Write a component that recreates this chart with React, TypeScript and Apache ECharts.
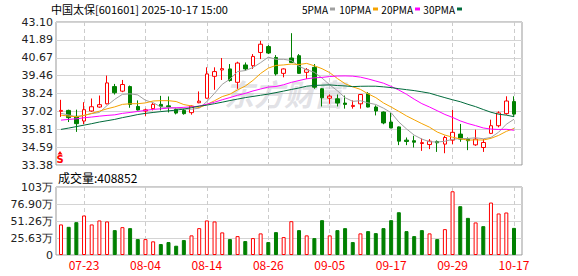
import React, { useEffect, useRef } from 'react';
import * as echarts from 'echarts';

const dates = [
  '07-18','07-21','07-22','07-23','07-24','07-25','07-28','07-29','07-30','07-31',
  '08-01','08-04','08-05','08-06','08-07','08-08','08-11','08-12','08-13','08-14',
  '08-15','08-18','08-19','08-20','08-21','08-22','08-25','08-26','08-27','08-28',
  '08-29','09-01','09-02','09-03','09-04','09-05','09-08','09-09','09-10','09-11',
  '09-12','09-15','09-16','09-17','09-18','09-19','09-22','09-23','09-24','09-25',
  '09-26','09-29','09-30','10-09','10-10','10-13','10-14','10-15','10-16','10-17',
];

// [open, close, low, high]
const ohlc: number[][] = [
  [37.03, 37.09, 36.65, 37.81], [37.09, 36.60, 36.30, 37.14], [36.69, 36.19, 35.63, 37.14],
  [36.37, 37.14, 36.15, 37.65], [37.05, 37.34, 37.00, 37.90], [37.32, 37.48, 37.27, 38.10],
  [37.54, 38.96, 37.50, 39.46], [38.71, 38.29, 38.17, 38.89], [38.40, 38.85, 38.33, 39.16],
  [38.71, 37.50, 37.27, 38.78], [37.36, 37.12, 37.09, 37.77], [37.05, 37.13, 36.72, 37.21],
  [37.21, 37.50, 37.09, 37.59], [37.50, 37.36, 37.09, 38.08], [37.40, 37.33, 36.95, 38.04],
  [37.16, 36.91, 36.82, 37.23], [37.09, 36.87, 36.80, 37.21], [36.94, 37.38, 36.80, 37.43],
  [37.61, 37.72, 37.58, 38.38], [37.92, 39.57, 37.90, 40.02], [39.41, 39.73, 38.49, 40.02],
  [39.84, 39.93, 39.16, 40.65], [39.91, 39.12, 39.05, 40.24], [39.00, 40.31, 38.56, 40.40],
  [40.18, 39.91, 39.79, 40.35], [40.13, 40.76, 39.91, 40.92], [41.03, 41.59, 40.58, 41.82],
  [41.43, 40.99, 40.92, 41.53], [40.69, 39.57, 39.46, 40.85], [39.61, 39.91, 39.34, 39.95],
  [40.65, 40.35, 40.31, 42.34], [40.81, 39.61, 39.57, 40.92], [39.68, 39.86, 39.23, 39.97],
  [40.02, 38.67, 38.56, 40.24], [38.56, 37.95, 37.36, 38.60], [37.92, 38.06, 37.54, 38.17],
  [37.88, 37.59, 37.36, 38.17], [37.59, 37.50, 37.21, 38.10], [37.36, 37.43, 37.21, 37.77],
  [37.54, 38.17, 37.21, 38.20], [38.22, 37.32, 37.30, 38.33], [37.32, 37.05, 36.75, 37.43],
  [36.98, 36.24, 36.15, 37.02], [36.30, 35.90, 35.88, 36.91], [35.97, 35.00, 34.73, 36.00],
  [35.07, 34.98, 34.73, 35.25], [35.03, 34.93, 34.57, 35.37], [34.84, 34.90, 34.34, 35.18],
  [34.77, 35.00, 34.46, 35.14], [34.98, 34.89, 34.27, 35.05], [34.80, 35.25, 34.18, 35.37],
  [35.07, 35.60, 34.80, 37.12], [35.48, 35.14, 34.96, 36.17], [35.14, 35.03, 34.39, 35.25],
  [34.75, 35.14, 34.68, 35.78], [34.57, 34.91, 34.27, 35.14], [35.53, 36.05, 35.48, 36.46],
  [36.05, 36.92, 35.94, 37.03], [36.87, 37.73, 36.80, 38.05], [37.69, 36.84, 36.72, 38.05],
];

// volume in 万 (10k shares)
const volumes = [
  46.1, 42.5, 49.5, 59.6, 46.1, 52.1, 50.6, 37.5, 42.0, 40.5,
  24.0, 24.0, 20.6, 16.5, 19.5, 14.0, 22.5, 29.6, 40.5, 52.1,
  50.6, 34.1, 24.0, 28.5, 21.0, 25.5, 32.6, 19.5, 34.5, 27.0,
  51.0, 37.5, 29.6, 25.5, 52.5, 29.6, 37.5, 40.5, 19.5, 32.6,
  36.0, 33.0, 40.5, 52.5, 64.5, 36.0, 28.5, 37.5, 32.6, 24.0,
  39.0, 96.1, 73.6, 56.0, 49.1, 43.5, 79.1, 62.6, 64.1, 40.8852,
];
const prevClose = 37.0;

// MA values before enough closes are available
const ma5Head = [36.89, 36.78, 36.66, 36.75];
const ma10Head = [36.77, 36.70, 36.66, 36.75, 36.89, 37.04, 37.20, 37.33, 37.50];
const ma20Head = [36.43, 36.48, 36.52, 36.59, 36.64, 36.70, 36.75, 36.79, 36.89, 36.95,
  37.02, 37.09, 37.16, 37.20, 37.25, 37.27, 37.30, 37.33, 37.38];
const ma30Head = [35.80, 35.89, 35.99, 36.09, 36.19, 36.30, 36.39, 36.48, 36.60, 36.70,
  36.81, 36.89, 36.95, 37.01, 37.06, 37.11, 37.18, 37.28, 37.38, 37.45,
  37.55, 37.65, 37.76, 37.86, 37.96, 38.04, 38.12, 38.20, 38.30];

const yTickLabels = ['33.38', '34.59', '35.81', '37.02', '38.24', '39.46', '40.67', '41.89', '43.10'];
const volTickLabels = ['0', '25.63万', '51.26万', '76.90万', '103万'];
const xTickLabels = ['07-23', '08-04', '08-14', '08-26', '09-05', '09-17', '09-29', '10-17'];
const priceMin = 33.38;
const priceMax = 43.10;
const volMax = 102.53;

const legendNames = ['5PMA', '10PMA', '20PMA', '30PMA'];
const maColors = ['#a0a0a0', '#f5a300', '#ff00ff', '#006b3c'];

const closes = ohlc.map((d) => d[1]);
function movingAverage(n: number, head: number[]) {
  return closes.map((_, i) => {
    if (i < n - 1) return head[i];
    let s = 0;
    for (let k = i - n + 1; k <= i; k++) s += closes[k];
    return +(s / n).toFixed(3);
  });
}

const RED = '#ff0000';
const GREEN = '#008000';

export default function App() {
  const ref = useRef<HTMLDivElement>(null);
  useEffect(() => {
    if (!ref.current) return;
    const chart = echarts.init(ref.current, undefined, { renderer: 'svg' });
    const mas = [
      movingAverage(5, ma5Head),
      movingAverage(10, ma10Head),
      movingAverage(20, ma20Head),
      movingAverage(30, ma30Head),
    ];
    const volData = volumes.map((v, i) => {
      const pc = i === 0 ? prevClose : closes[i - 1];
      const up = closes[i] >= pc;
      return {
        value: v,
        itemStyle: up
          ? { color: '#ffffff', borderColor: RED, borderWidth: 1 }
          : { color: GREEN, borderColor: GREEN, borderWidth: 1 },
      };
    });
    const isTick = (_i: number, v: string) => xTickLabels.includes(v);
    const splitDash = {
      show: true,
      interval: isTick,
      alignWithLabel: true,
      lineStyle: { color: '#cccccc', type: [4, 3] as any, width: 1 },
    };
    const sans = '"DejaVu Sans", sans-serif';
    const cjk = '"Noto Sans CJK SC", sans-serif';

    const legendRight = [328, 371, 413, 455];
    const legendGraphics: any[] = [];
    legendNames.forEach((name, i) => {
      legendGraphics.push({
        type: 'text',
        style: {
          text: name, x: legendRight[i], y: 9, fill: '#000',
          font: `10px ${cjk}`, textAlign: 'right', textVerticalAlign: 'middle',
          align: 'right', verticalAlign: 'middle',
        },
      });
      legendGraphics.push({
        type: 'rect',
        shape: { x: legendRight[i] + 2, y: 7.5, width: 5, height: 3 },
        style: { fill: maColors[i] },
      });
    });

    chart.setOption({
      animation: false,
      backgroundColor: '#ffffff',
      grid: [
        { left: 56, right: 56, top: 22, height: 143, show: true, borderColor: '#999', borderWidth: 1 },
        { left: 57.16, right: 60.16, top: 22, height: 143 },
        { left: 56, right: 56, top: 187, height: 68, show: true, borderColor: '#999', borderWidth: 1 },
        { left: 57.16, right: 60.16, top: 187, height: 68 },
      ],
      xAxis: [
        { gridIndex: 0, type: 'value', min: 0, max: 1, show: false },
        {
          gridIndex: 1, type: 'category', data: dates, boundaryGap: true,
          axisLine: { show: false }, axisTick: { show: false }, axisLabel: { show: false },
          splitLine: splitDash,
        },
        { gridIndex: 2, type: 'value', min: 0, max: 1, show: false },
        {
          gridIndex: 3, type: 'category', data: dates, boundaryGap: true,
          axisLine: { show: false }, axisTick: { show: false },
          axisLabel: {
            show: true, interval: isTick, color: RED, fontFamily: cjk, fontSize: 12, margin: 3,
          },
          splitLine: splitDash,
        },
      ],
      yAxis: [
        {
          gridIndex: 0, type: 'value', min: 0, max: 8, interval: 1,
          axisLine: { show: false }, axisTick: { show: false },
          axisLabel: {
            formatter: (v: number) => yTickLabels[Math.round(v)] ?? '',
            color: '#222', fontFamily: sans, fontSize: 11, margin: 3,
          },
          splitLine: { show: true, lineStyle: { color: '#d4d4d4', width: 1 } },
        },
        { gridIndex: 1, type: 'value', min: priceMin, max: priceMax, show: false, splitLine: { show: false } },
        {
          gridIndex: 2, type: 'value', min: 0, max: 4, interval: 1,
          axisLine: { show: false }, axisTick: { show: false },
          axisLabel: {
            formatter: (v: number) => volTickLabels[Math.round(v)] ?? '',
            color: '#222', fontFamily: sans, fontSize: 11, margin: 3,
          },
          splitLine: { show: true, lineStyle: { color: '#d4d4d4', width: 1 } },
        },
        { gridIndex: 3, type: 'value', min: 0, max: volMax, show: false, splitLine: { show: false } },
      ],
      graphic: [
        {
          type: 'text', z: 1,
          style: {
            text: '东方财富', x: 284, y: 93, fill: 'rgba(190,190,200,0.45)',
            font: `italic bold 30px ${cjk}`, textAlign: 'center', textVerticalAlign: 'middle',
            align: 'center', verticalAlign: 'middle',
          },
        },
        {
          type: 'text',
          style: {
            text: '中国太保[601601] 2025-10-17 15:00', x: 51, y: 9, fill: '#000',
            font: `11px ${cjk}`, textAlign: 'left', textVerticalAlign: 'middle',
            align: 'left', verticalAlign: 'middle',
          },
        },
        ...legendGraphics,
        {
          type: 'text',
          style: {
            text: '成交量:' + Math.round(volumes[volumes.length - 1] * 10000), x: 58, y: 177, fill: '#000',
            font: `12px ${cjk}`, textAlign: 'left', textVerticalAlign: 'middle',
            align: 'left', verticalAlign: 'middle',
          },
        },
        {
          type: 'polygon', z: 10,
          shape: { points: [[57.5, 154.5], [62.5, 154.5], [60, 151]] },
          style: { fill: RED },
        },
        {
          type: 'text', z: 10,
          style: {
            text: 'S', x: 60, y: 159.5, fill: RED,
            font: `bold 10px ${sans}`, textAlign: 'center', textVerticalAlign: 'middle',
            align: 'center', verticalAlign: 'middle',
          },
        },
      ],
      series: [
        {
          type: 'candlestick', name: 'K', xAxisIndex: 1, yAxisIndex: 1,
          data: ohlc, barWidth: 4,
          itemStyle: {
            color: '#ffffff', color0: GREEN, borderColor: RED, borderColor0: GREEN, borderWidth: 1,
          },
        },
        ...mas.map((d, i) => ({
          type: 'line', name: legendNames[i], xAxisIndex: 1, yAxisIndex: 1, data: d,
          showSymbol: false, symbol: 'none', lineStyle: { color: maColors[i], width: 1 },
          itemStyle: { color: maColors[i] }, z: 3,
        })),
        {
          type: 'bar', name: 'VOL', xAxisIndex: 3, yAxisIndex: 3, data: volData, barWidth: 4,
        },
      ],
    });
    return () => chart.dispose();
  }, []);
  return (
    <div
      ref={ref}
      style={{ position: 'absolute', left: 0, top: 0, width: 578, height: 276, background: '#fff' }}
    />
  );
}
